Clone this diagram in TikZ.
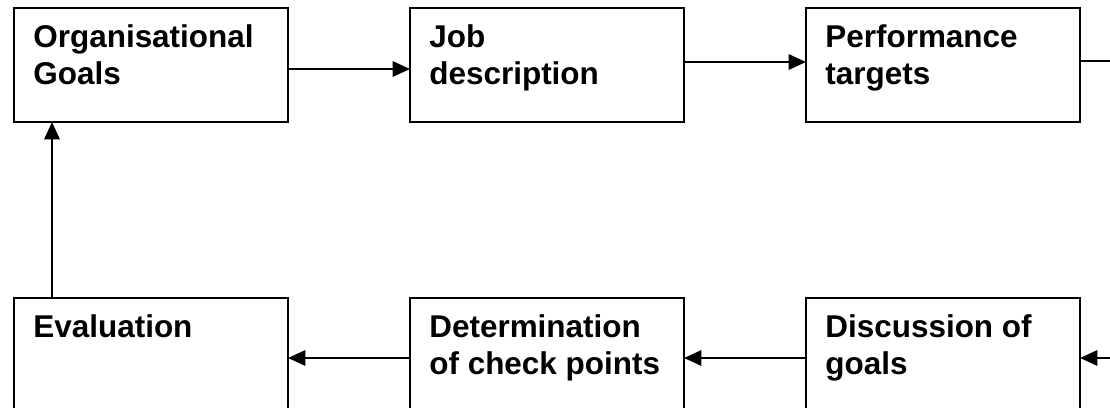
\documentclass[tikz,border=0pt]{standalone}
\usepackage{fontspec}
\setmainfont{Liberation Sans}
\usetikzlibrary{arrows.meta, positioning}

% text of a box: set at its top left corner
\newcommand{\steptext}[1]{\parbox[c][85.5pt][t]{205.5pt}{\raggedright\leftskip=14.5pt
    \vspace*{10.5pt}\strut#1}}

\tikzset{
    stepbox/.style={draw, line width=1.5pt, minimum width=205.5pt, minimum height=85.5pt,
        inner sep=0pt, outer sep=0pt, font=\bfseries\fontsize{23.6}{27.5}\selectfont},
    flow/.style={-{Triangle[length=13pt, width=11.5pt]}, line width=1.5pt},
    link/.style={line width=1.5pt},
}

\begin{document}
\begin{tikzpicture}[x=0.75pt, y=-0.75pt, node distance=91.5pt]

\useasboundingbox (0,0) rectangle (1110,407);

% ---------------------------------------------------------------- top row
\node[stepbox] (goals) at (151,65) {\steptext{Organisational\\Goals}};
\node[stepbox, right=of goals] (job) {\steptext{Job\\description}};
\node[stepbox, right=of job] (perf) {\steptext{Performance\\targets}};

% ---------------------------------------------------------------- bottom row
\node[stepbox, below=132pt of goals] (eval) {\steptext{Evaluation}};
\node[stepbox, right=of eval] (determ) {\steptext{Determination\\of check points}};
\node[stepbox, right=of determ] (disc) {\steptext{Discussion of\\goals}};

% ---------------------------------------------------------------- connectors
\coordinate (out) at (1110,61);
\coordinate (in) at (1110,358);

\draw[flow] ([yshift=-3pt]goals.east) -- ([yshift=-3pt]job.west);
\draw[flow] ([yshift=2.25pt]job.east) -- ([yshift=2.25pt]perf.west);
\draw[link] (perf.east |- out) -- (out);

\draw[flow] (in) -- (in -| disc.east);
\draw[flow] ([yshift=-2.25pt]disc.west) -- ([yshift=-2.25pt]determ.east);
\draw[flow] ([yshift=-2.25pt]determ.west) -- ([yshift=-2.25pt]eval.east);
\draw[flow] ([xshift=28.5pt]eval.north west) -- ([xshift=28.5pt]goals.south west);

\end{tikzpicture}
\end{document}
